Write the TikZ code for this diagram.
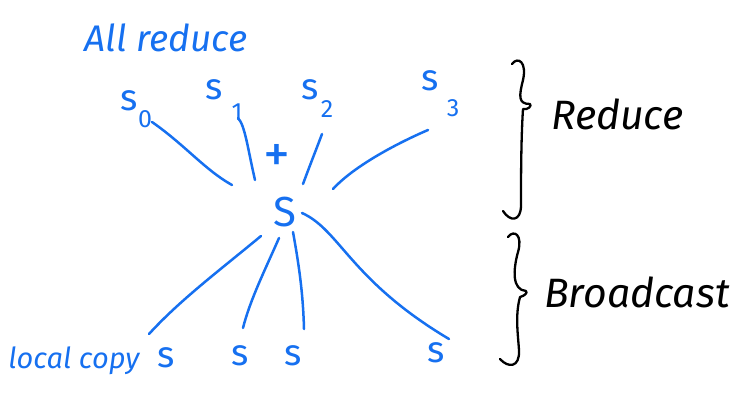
\documentclass[tikz,border=0pt]{standalone}
\usepackage{fontspec}
\setmainfont{Fira Sans}
\definecolor{pen}{RGB}{22,112,240}
\begin{document}
\begin{tikzpicture}[x=1pt,y=-1pt,
  stroke/.style={pen,line width=2.5pt,line cap=round},
  bstroke/.style={black,line width=2.3pt,line cap=round,line join=round},
  lab/.style={pen,inner sep=0pt,font=\fontsize{37}{37}\selectfont},
  sub/.style={pen,inner sep=0pt,font=\fontsize{25}{25}\selectfont},
  word/.style={black,inner sep=0pt,font=\fontsize{41}{41}\selectfont\itshape}]
\useasboundingbox (0,0) rectangle (744,394);
% title
\node[pen,inner sep=0pt,font=\fontsize{37}{37}\selectfont\itshape] (title) at (166,38) {All reduce};
% sources
\node[lab] (s0) at (129,101) {s};
\node[sub] (s0i) at (145,119) {0};
\node[lab] (s1) at (214,90) {s};
\node[sub] (s1i) at (237,112) {1};
\node[lab] (s2) at (310,90) {s};
\node[sub] (s2i) at (327,109) {2};
\node[lab] (s3) at (430,81) {s};
\node[sub] (s3i) at (453,108) {3};
\node[lab,font=\fontsize{54}{54}\selectfont] (plus) at (277,158) {+};
% center
\node[lab,font=\fontsize{42}{42}\selectfont] (S) at (285,212) {S};
% destinations
\node[pen,inner sep=0pt,font=\fontsize{29}{29}\selectfont\itshape] (lc) at (74,361) {local copy};
\node[lab] (d0) at (166,358) {s};
\node[lab] (d1) at (240,356) {s};
\node[lab] (d2) at (293,356) {s};
\node[lab] (d3) at (436,353) {s};
% connector endpoints
\coordinate (a0) at (152,122); \coordinate (b0) at (232,185);
\coordinate (a1) at (238,118); \coordinate (b1) at (255,180);
\coordinate (a2) at (322,134); \coordinate (b2) at (303,184);
\coordinate (a3) at (428,130); \coordinate (b3) at (333,189);
\coordinate (c0) at (261,236); \coordinate (e0) at (149,334);
\coordinate (c1) at (279,238); \coordinate (e1) at (243,328);
\coordinate (c2) at (293,232); \coordinate (e2) at (304,329);
\coordinate (c3) at (302,213); \coordinate (e3) at (449,339);
% reduce lines
\draw[stroke] (a0) .. controls (185,145) and (205,170) .. (b0);
\draw[stroke] (a1) .. controls (245,125) and (248,150) .. (b1);
\draw[stroke] (a2) .. controls (316,150) and (310,165) .. (b2);
\draw[stroke] (a3) .. controls (400,142) and (355,165) .. (b3);
% broadcast lines
\draw[stroke] (c0) .. controls (220,270) and (180,300) .. (e0);
\draw[stroke] (c1) .. controls (265,270) and (250,300) .. (e1);
\draw[stroke] (c2) .. controls (298,260) and (303,290) .. (e2);
\draw[stroke] (c3) .. controls (340,230) and (350,280) .. (e3);
% braces
\draw[bstroke] (512,64) .. controls (518,56) and (527,62) .. (523,80)
  .. controls (519,96) and (518,104) .. (530,104) .. controls (532,106) and (528,110) .. (523,109)
  .. controls (521,140) and (521,180) .. (521,205) .. controls (521,222) and (510,222) .. (503,211);
\draw[bstroke] (508,237) .. controls (514,229) and (523,235) .. (518,252)
  .. controls (513,270) and (512,290) .. (526,291) .. controls (528,293) and (524,296) .. (520,297)
  .. controls (515,315) and (518,335) .. (519,350) .. controls (520,368) and (508,368) .. (500,359);
\node[word,anchor=west] (red) at (551,114) {Reduce};
\node[word,anchor=west] (bro) at (544,292) {Broadcast};
\end{tikzpicture}
\end{document}
